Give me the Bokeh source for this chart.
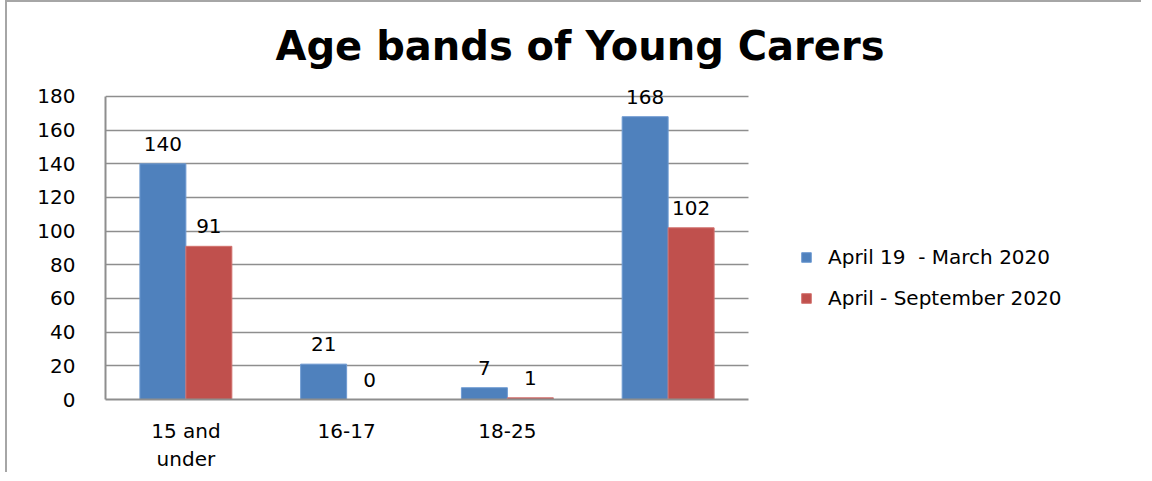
from bokeh.plotting import figure
from bokeh.models import Range1d, ColumnDataSource, Legend, LegendItem, FixedTicker
from bokeh.transform import dodge
from bokeh.core.properties import value
from bokeh.embed import file_html
from bokeh.resources import INLINE

# ---- data ----
categories = ["15 and\nunder", "16-17", "18-25", ""]
series_names = ["April 19  - March 2020", "April - September 2020"]
apr19_mar20 = [140, 21, 7, 168]
apr_sep20 = [91, 0, 1, 102]
y_ticks = [0, 20, 40, 60, 80, 100, 120, 140, 160, 180]
title_text = "Age bands of Young Carers"

BLUE = "#4F81BD"
RED = "#C0504D"
FONT = "DejaVu Sans"
GRID = "#8e8e8e"
FS = "20px"

n = len(categories)
centers = [i + 0.5 for i in range(n)]

src = ColumnDataSource(dict(
    xc=centers,
    a=apr19_mar20,
    b=apr_sep20,
    a_lbl=[str(v) for v in apr19_mar20],
    b_lbl=[str(v) for v in apr_sep20],
))

# the category band occupies 0..n; the frame continues to the right to hold the legend
p = figure(width=1136, height=472, output_backend="svg", toolbar_location=None,
           x_range=Range1d(0, 6.426), y_range=Range1d(0, 185.94),
           min_border_left=98, min_border_right=5, min_border_top=84, min_border_bottom=75)
p.styles = {"margin-left": "5px", "border-top": "2px solid #a6a6a6", "border-left": "2px solid #a6a6a6"}

off = 0.143
w = 0.286
rb = p.vbar(x=dodge("xc", -off), top="a", width=w, source=src,
            fill_color=BLUE, line_color="#6f9bd2", line_width=1)
rr = p.vbar(x=dodge("xc", off), top="b", width=w, source=src,
            fill_color=RED, line_color="#d2726f", line_width=1)

p.text(x=dodge("xc", -off), y="a", text="a_lbl", source=src,
       text_align="center", text_baseline="middle", y_offset=-20,
       text_font=value(FONT), text_font_size=FS, text_color="black")
p.text(x=dodge("xc", off), y="b", text="b_lbl", source=src,
       text_align="center", text_baseline="middle", y_offset=-20,
       text_font=value(FONT), text_font_size=FS, text_color="black")

# axes
p.yaxis.ticker = FixedTicker(ticks=y_ticks)
p.yaxis.bounds = (0, 180)
p.yaxis.major_tick_out = 0
p.yaxis.major_tick_in = 0
p.yaxis.minor_tick_out = 0
p.yaxis.minor_tick_in = 0
p.yaxis.major_label_standoff = 30
p.yaxis.axis_line_color = GRID
p.yaxis.axis_line_width = 2

p.xaxis.ticker = FixedTicker(ticks=centers)
p.xaxis.major_label_overrides = {c: lbl for c, lbl in zip(centers, categories)}
p.xaxis.bounds = (0, n)
p.xaxis.axis_line_color = GRID
p.xaxis.axis_line_width = 2
p.xaxis.major_tick_out = 0
p.xaxis.major_tick_in = 0
p.xaxis.minor_tick_out = 0
p.xaxis.minor_tick_in = 0
p.xaxis.major_label_standoff = 19
for ax in (p.xaxis, p.yaxis):
    ax.major_label_text_font = FONT
    ax.major_label_text_font_size = FS
    ax.major_label_text_color = "black"

p.xgrid.grid_line_color = None
p.ygrid.grid_line_color = GRID
p.ygrid.grid_line_width = 1.5
p.ygrid.cross_bounds = (0, n)
p.outline_line_color = None

# title
p.title.text = title_text
p.title.align = "left"
p.title.offset = 170
p.title.standoff = 35
p.title.text_font = FONT
p.title.text_font_size = "40px"
p.title.text_font_style = "bold"
p.title.text_color = "black"

legend = Legend(items=[LegendItem(label=series_names[0], renderers=[rb]),
                       LegendItem(label=series_names[1], renderers=[rr])],
                location=(695, 89), padding=0, margin=0, spacing=17,
                glyph_width=12, glyph_height=12, label_height=20, label_standoff=16,
                border_line_color=None, background_fill_alpha=0,
                label_text_font=FONT, label_text_font_size=FS, label_text_color="black")
p.add_layout(legend, "center")

open("out.html", "w").write(file_html(p, INLINE))
